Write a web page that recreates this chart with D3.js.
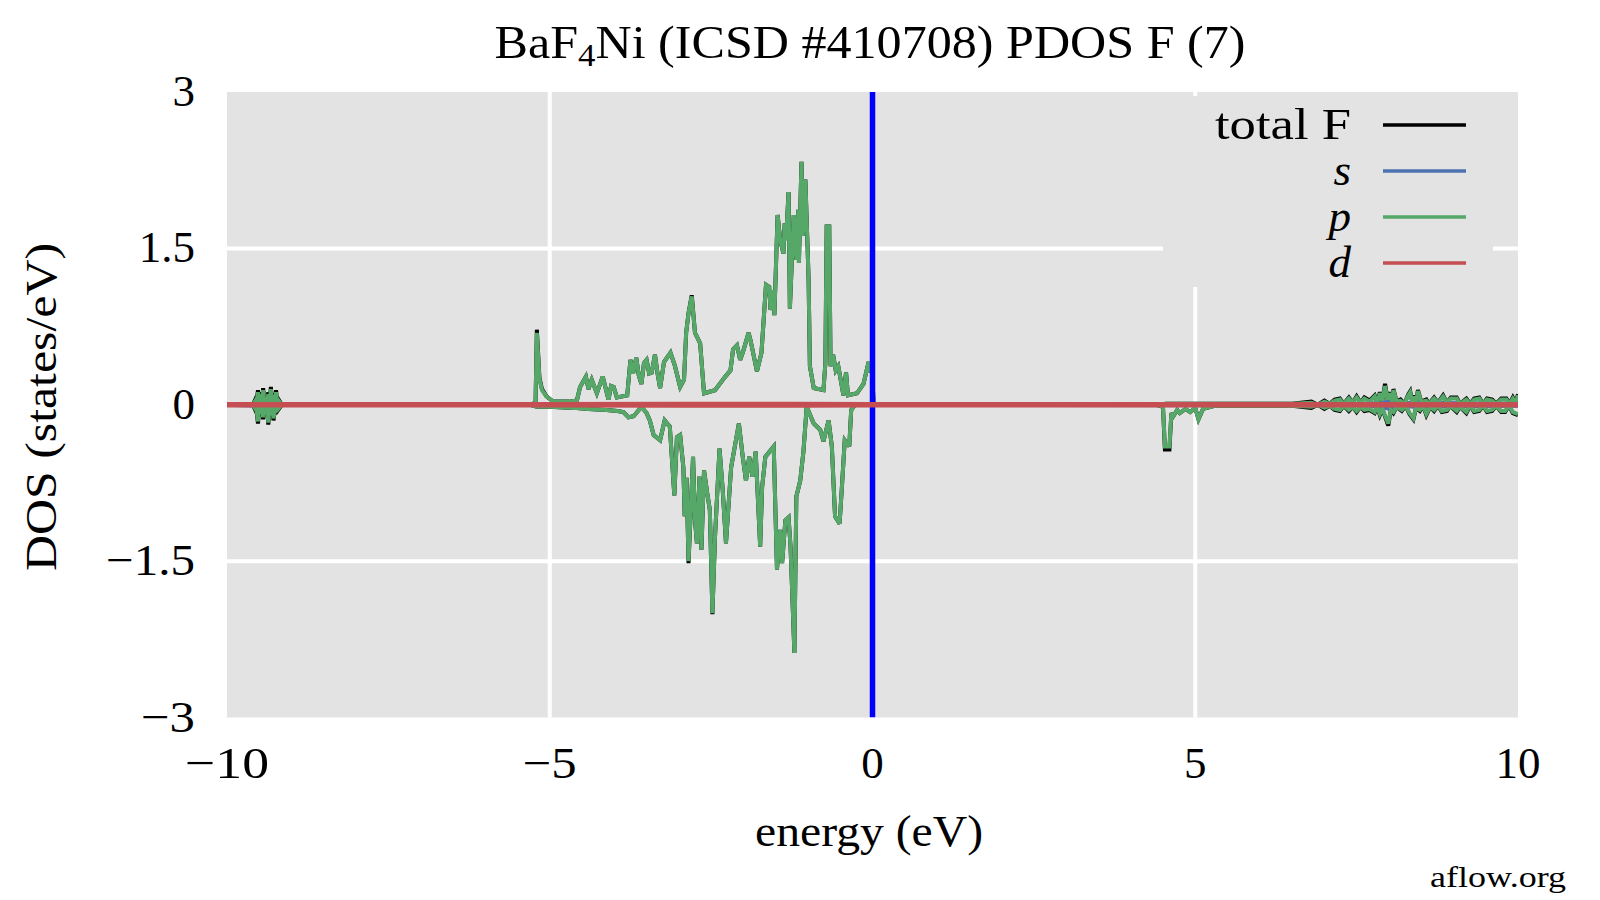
<!DOCTYPE html>
<html>
<head>
<meta charset="utf-8">
<script src="https://cdn.jsdelivr.net/npm/d3@7"></script>
<style>
  html, body { margin: 0; padding: 0; background: #ffffff; }
  svg { display: block; }
  text { font-family: "Liberation Serif", "DejaVu Serif", serif; fill: #000; }
</style>
</head>
<body>
<svg id="chart" width="1600" height="900"></svg>
<script>
// ---------- data ----------
const xTicks = [-10, -5, 0, 5, 10];
const yTicks = [3, 1.5, 0, -1.5, -3];
const yTickLabels = ["3", "1.5", "0", "\u22121.5", "\u22123"];
const xTickLabels = ["\u221210", "\u22125", "0", "5", "10"];

// spin up: energy grid and projected DOS (states/eV)
const energyUp = [-10.0,-9.60,-9.57,-9.55,-9.52,-9.50,-9.48,-9.46,-9.44,-9.42,-9.40,-9.38,-9.36,-9.34,-9.32,-9.30,-9.28,-9.26,-9.24,-9.22,-9.20,-9.15,-9.10,
  -5.30,-5.22,-5.20,-5.16,-5.12,-5.05,-4.95,-4.70,-4.58,-4.53,-4.44,-4.40,-4.35,-4.27,-4.18,-4.09,-4.05,-4.01,-3.96,
  -3.80,-3.75,-3.71,-3.66,-3.62,-3.58,-3.54,-3.50,-3.46,-3.42,-3.37,-3.33,-3.29,-3.23,-3.13,-3.06,-2.98,-2.92,
  -2.887,-2.85,-2.80,-2.75,-2.67,-2.61,-2.44,-2.28,-2.20,-2.16,-2.10,-2.05,-2.01,-1.92,-1.89,-1.79,-1.72,
  -1.65,-1.60,-1.58,-1.54,-1.52,-1.47,-1.43,-1.38,-1.36,-1.34,-1.30,-1.28,-1.22,-1.18,-1.15,-1.14,-1.10,-1.08,-1.04,
  -0.99,-0.97,-0.91,-0.76,-0.73,-0.71,-0.67,-0.65,-0.61,-0.57,-0.53,-0.45,-0.41,-0.38,-0.24,-0.14,-0.06,-0.03,-0.01,0.02,
  4.40,4.55,4.70,5.20,
  6.50,6.80,6.90,7.00,7.08,7.16,7.24,7.30,7.38,7.44,7.50,7.56,7.62,7.70,7.78,7.82,7.86,7.90,7.94,7.98,8.02,8.05,8.07,8.12,
  8.18,8.24,8.30,8.33,8.36,8.38,8.42,8.45,8.50,8.58,8.62,8.70,8.76,8.84,8.90,8.96,9.05,9.10,9.20,9.26,9.32,9.40,9.46,9.52,
  9.60,9.66,9.74,9.82,9.87,9.92,9.96,10.0];
const pUp = [0,0,0.03,0.00,0.12,0.02,0.10,0.01,0.14,0.02,0.06,0.01,0.10,0.02,0.15,0.01,0.09,0.02,0.12,0.01,0.04,0.0,0,
  0,0.02,0.69,0.25,0.14,0.08,0.03,0.03,0.04,0.17,0.27,0.15,0.24,0.11,0.27,0.05,0.18,0.17,0.07,
  0.09,0.43,0.30,0.45,0.28,0.20,0.40,0.43,0.30,0.31,0.48,0.30,0.16,0.41,0.50,0.37,0.17,0.24,
  0.69,0.88,1.04,0.69,0.59,0.11,0.14,0.27,0.33,0.53,0.57,0.43,0.50,0.69,0.62,0.32,0.50,
  1.15,1.13,0.91,1.10,0.86,1.82,1.58,1.45,1.74,1.58,2.04,0.92,1.82,1.39,1.87,1.36,2.33,1.62,2.16,
  1.20,0.37,0.16,0.14,0.40,1.71,1.71,0.37,0.48,0.33,0.37,0.09,0.31,0.09,0.11,0.20,0.41,0.31,0.34,0.0,
  0,0.01,0.01,0.01,
  0.01,0.02,0.00,0.03,0.01,0.04,0.05,0.01,0.06,0.02,0.07,0.02,0.06,0.03,0.08,0.02,0.11,0.04,0.18,0.05,0.11,0.03,0.14,0.03,
  0.04,0.01,0.09,0.12,0.03,0.08,0.02,0.13,0.03,0.04,0.01,0.06,0.02,0.08,0.02,0.06,0.06,0.01,0.05,0.01,0.05,0.06,0.01,0.05,
  0.04,0.01,0.05,0.05,0.01,0.06,0.02,0.09];
const totalUp = [0,0,0.04,0.00,0.14,0.02,0.12,0.01,0.16,0.02,0.08,0.01,0.12,0.02,0.17,0.01,0.11,0.02,0.14,0.01,0.05,0.0,0,
  0,0.02,0.72,0.26,0.15,0.08,0.03,0.03,0.04,0.17,0.27,0.15,0.24,0.11,0.27,0.05,0.18,0.17,0.07,
  0.09,0.43,0.30,0.45,0.28,0.20,0.40,0.43,0.30,0.31,0.48,0.30,0.16,0.41,0.50,0.37,0.17,0.24,
  0.69,0.88,1.05,0.69,0.59,0.11,0.14,0.27,0.33,0.53,0.57,0.43,0.50,0.69,0.62,0.32,0.50,
  1.15,1.13,0.91,1.10,0.86,1.82,1.58,1.45,1.74,1.58,2.04,0.92,1.82,1.39,1.87,1.36,2.33,1.62,2.16,
  1.20,0.37,0.16,0.14,0.40,1.71,1.71,0.37,0.48,0.33,0.37,0.09,0.31,0.09,0.11,0.20,0.41,0.31,0.34,0.0,
  0,0.01,0.01,0.01,
  0.01,0.03,0.00,0.04,0.01,0.05,0.06,0.01,0.07,0.02,0.08,0.02,0.07,0.04,0.09,0.02,0.12,0.04,0.20,0.05,0.12,0.03,0.15,0.03,
  0.05,0.01,0.10,0.13,0.03,0.09,0.02,0.14,0.03,0.05,0.01,0.07,0.02,0.09,0.02,0.07,0.07,0.01,0.06,0.01,0.06,0.07,0.01,0.06,
  0.05,0.01,0.06,0.06,0.01,0.07,0.02,0.10];

// spin down
const energyDown = [-10.0,-9.60,-9.57,-9.55,-9.52,-9.50,-9.48,-9.46,-9.44,-9.42,-9.40,-9.38,-9.36,-9.34,-9.32,-9.30,-9.28,-9.25,-9.22,-9.15,
  -5.30,-5.20,-5.00,-4.63,-4.40,-4.12,-3.95,-3.86,-3.78,-3.70,-3.62,-3.58,-3.50,-3.45,-3.39,-3.29,-3.22,-3.14,
  -3.07,-3.03,-2.98,-2.93,-2.91,-2.88,-2.85,-2.78,-2.75,-2.72,-2.68,-2.65,-2.61,-2.56,-2.52,-2.48,-2.44,
  -2.37,-2.32,-2.27,-2.19,-2.07,-2.01,-1.96,-1.91,-1.86,-1.81,-1.74,-1.71,-1.66,-1.53,-1.48,-1.43,-1.40,
  -1.35,-1.30,-1.27,-1.21,-1.18,-1.12,-1.07,-1.02,-0.91,-0.81,-0.76,-0.68,-0.63,-0.58,-0.51,-0.48,-0.43,
  -0.36,-0.33,-0.27,
  4.40,4.50,4.53,4.60,4.63,4.66,4.72,4.76,4.85,4.92,5.00,5.05,5.12,5.18,5.30,
  6.50,6.80,6.90,7.00,7.08,7.16,7.24,7.30,7.38,7.44,7.50,7.56,7.62,7.70,7.78,7.82,7.86,7.90,7.95,7.99,8.03,8.07,8.12,
  8.20,8.26,8.32,8.38,8.42,8.48,8.53,8.58,8.64,8.70,8.76,8.82,8.90,8.95,9.05,9.10,9.20,9.26,9.32,9.40,9.46,9.52,
  9.60,9.66,9.74,9.80,9.86,9.92,10.0];
const pDown = [0,0,-0.03,-0.01,-0.16,-0.02,-0.08,-0.01,-0.12,-0.02,-0.05,-0.01,-0.17,-0.02,-0.10,-0.01,-0.13,-0.02,-0.05,0,
  0,-0.02,-0.02,-0.03,-0.04,-0.05,-0.06,-0.07,-0.12,-0.11,-0.05,-0.02,-0.08,-0.15,-0.29,-0.34,-0.15,-0.21,
  -0.87,-0.31,-0.29,-0.60,-1.07,-0.70,-1.50,-0.50,-1.11,-1.33,-0.69,-1.39,-0.63,-0.85,-1.01,-2.00,-1.27,
  -0.42,-0.82,-1.33,-0.60,-0.18,-0.50,-0.73,-0.50,-0.69,-0.45,-1.36,-0.79,-0.50,-0.40,-1.58,-1.20,-1.52,
  -1.11,-1.08,-1.36,-2.38,-0.88,-0.73,-0.45,-0.02,-0.18,-0.24,-0.35,-0.15,-0.40,-1.07,-1.14,-0.85,-0.34,
  -0.40,-0.05,0,
  0,-0.02,-0.40,-0.40,-0.08,-0.11,-0.05,-0.08,-0.04,-0.07,-0.03,-0.14,-0.04,-0.03,-0.01,
  -0.01,-0.02,0.00,-0.03,-0.01,-0.04,-0.05,-0.01,-0.05,-0.02,-0.06,-0.02,-0.05,-0.04,-0.07,-0.02,-0.09,-0.04,-0.12,-0.18,-0.05,-0.07,-0.02,
  -0.05,-0.01,-0.08,-0.13,-0.03,-0.05,-0.01,-0.09,-0.02,-0.05,-0.01,-0.06,-0.05,-0.01,-0.06,-0.02,-0.07,-0.01,-0.06,-0.05,-0.01,-0.06,
  -0.05,-0.01,-0.06,-0.06,-0.01,-0.07,-0.09];
const totalDown = [0,0,-0.04,-0.01,-0.18,-0.02,-0.10,-0.01,-0.14,-0.02,-0.07,-0.01,-0.19,-0.02,-0.12,-0.01,-0.15,-0.02,-0.06,0,
  0,-0.02,-0.02,-0.03,-0.04,-0.05,-0.06,-0.07,-0.12,-0.11,-0.05,-0.02,-0.08,-0.15,-0.29,-0.34,-0.15,-0.21,
  -0.87,-0.31,-0.29,-0.60,-1.07,-0.70,-1.52,-0.50,-1.11,-1.33,-0.69,-1.39,-0.63,-0.85,-1.01,-2.01,-1.27,
  -0.42,-0.82,-1.33,-0.60,-0.18,-0.50,-0.73,-0.50,-0.69,-0.45,-1.36,-0.79,-0.50,-0.40,-1.58,-1.20,-1.52,
  -1.11,-1.08,-1.36,-2.38,-0.88,-0.73,-0.45,-0.02,-0.18,-0.24,-0.35,-0.15,-0.40,-1.07,-1.14,-0.85,-0.34,
  -0.40,-0.05,0,
  0,-0.02,-0.43,-0.43,-0.08,-0.11,-0.05,-0.08,-0.04,-0.07,-0.03,-0.14,-0.04,-0.03,-0.01,
  -0.01,-0.03,0.00,-0.04,-0.01,-0.05,-0.06,-0.01,-0.06,-0.02,-0.07,-0.02,-0.06,-0.05,-0.08,-0.02,-0.10,-0.04,-0.13,-0.20,-0.05,-0.08,-0.02,
  -0.06,-0.01,-0.09,-0.14,-0.03,-0.06,-0.01,-0.10,-0.02,-0.06,-0.01,-0.07,-0.06,-0.01,-0.07,-0.02,-0.08,-0.01,-0.07,-0.06,-0.01,-0.07,
  -0.06,-0.01,-0.07,-0.07,-0.01,-0.08,-0.10];

// s and d orbitals (tiny contributions)
const energyS = [-10.0,-9.55,-9.45,-9.35,-9.25,-9.15,7.50,7.90,8.00,8.10,8.40,10.0];
const sUp =   [0,0.01,0.04,0.02,0.03,0,0.005,0.02,0.03,0.01,0.02,0.01];
const sDown = [0,-0.01,-0.04,-0.02,-0.03,0,-0.005,-0.02,-0.04,-0.01,-0.02,-0.01];
const energyD = [-10.0,-5.2,-3.0,-1.2,0.0,4.5,8.0,10.0];
const dUp =   [0.01,0.01,0.012,0.012,0.01,0.01,0.01,0.01];
const dDown = [-0.01,-0.01,-0.012,-0.012,-0.01,-0.01,-0.01,-0.01];

const legendLabels = ["total F", "s", "p", "d"];
const legendColors = ["#000000", "#4c72b0", "#55a868", "#c44e52"];

// ---------- layout ----------
const svg = d3.select("#chart");
const L = 227, R = 1518, T = 92, B = 717.5;
const x = d3.scaleLinear().domain([-10, 10]).range([L, R]);
const y = d3.scaleLinear().domain([-3, 3]).range([B, T]);

svg.append("rect").attr("x", L).attr("y", T).attr("width", R - L).attr("height", B - T).attr("fill", "#e3e3e3");

const clip = svg.append("clipPath").attr("id", "clip");
clip.append("rect").attr("x", L).attr("y", T).attr("width", R - L).attr("height", B - T);

// grid
const grid = svg.append("g");
grid.selectAll("line.gx").data(xTicks.filter(v => v > -10 && v < 10)).enter().append("line")
  .attr("x1", d => x(d)).attr("x2", d => x(d)).attr("y1", T).attr("y2", B)
  .attr("stroke", "#ffffff").attr("stroke-width", 4);
grid.selectAll("line.gy").data(yTicks.filter(v => v > -3 && v < 3)).enter().append("line")
  .attr("y1", d => y(d)).attr("y2", d => y(d)).attr("x1", L).attr("x2", R)
  .attr("stroke", "#ffffff").attr("stroke-width", 4);

// tick labels (widths stretched to mimic Computer Modern proportions)
const xTickWidths = [84, 54, null, null, null];
svg.append("g").selectAll("text").data(xTicks).enter().append("text")
  .attr("x", d => x(d)).attr("y", 778).attr("text-anchor", "middle")
  .attr("font-size", 45)
  .each(function(d, i) { if (xTickWidths[i]) d3.select(this).attr("textLength", xTickWidths[i]).attr("lengthAdjust", "spacingAndGlyphs"); })
  .text((d, i) => xTickLabels[i]);
const yTickWidths = [null, null, null, 89, 54];
svg.append("g").selectAll("text").data(yTicks).enter().append("text")
  .attr("x", 195).attr("y", d => y(d) + 14).attr("text-anchor", "end")
  .attr("font-size", 45)
  .each(function(d, i) { if (yTickWidths[i]) d3.select(this).attr("textLength", yTickWidths[i]).attr("lengthAdjust", "spacingAndGlyphs"); })
  .text((d, i) => yTickLabels[i]);

// lines
const plot = svg.append("g").attr("clip-path", "url(#clip)");
function drawLine(xs, ys, color, w) {
  const pts = xs.map((e, i) => [e, ys[i]]);
  plot.append("path").datum(pts)
    .attr("d", d3.line().x(d => x(d[0])).y(d => y(d[1])))
    .attr("fill", "none").attr("stroke", color).attr("stroke-width", w)
    .attr("stroke-linejoin", "miter").attr("stroke-miterlimit", 3);
}
drawLine(energyUp, totalUp, legendColors[0], 4);
drawLine(energyDown, totalDown, legendColors[0], 4);
drawLine(energyS, sUp, legendColors[1], 4);
drawLine(energyS, sDown, legendColors[1], 4);
drawLine(energyUp, pUp, legendColors[2], 4);
drawLine(energyDown, pDown, legendColors[2], 4);
// Fermi level
plot.append("line").attr("x1", x(0)).attr("x2", x(0)).attr("y1", T).attr("y2", B)
  .attr("stroke", "#0000ff").attr("stroke-width", 5.5);
drawLine(energyD, dUp, legendColors[3], 3.5);
drawLine(energyD, dDown, legendColors[3], 3.5);

// legend
const lg = svg.append("g");
lg.append("rect").attr("x", 1163).attr("y", 96).attr("width", 330).attr("height", 191).attr("fill", "#e3e3e3");
const rowsY = [125, 171, 217, 263];
legendLabels.forEach((lab, i) => {
  lg.append("line").attr("x1", 1383).attr("x2", 1466).attr("y1", rowsY[i]).attr("y2", rowsY[i])
    .attr("stroke", legendColors[i]).attr("stroke-width", 3.5);
  const t = lg.append("text").attr("x", 1351).attr("y", rowsY[i] + 14).attr("text-anchor", "end")
    .attr("font-size", 45).attr("font-style", i === 0 ? "normal" : "italic").text(lab);
  if (i === 0) t.attr("textLength", 136).attr("lengthAdjust", "spacingAndGlyphs");
});

// title
const title = svg.append("text").attr("x", 870).attr("y", 58).attr("text-anchor", "middle").attr("font-size", 46)
  .attr("textLength", 751).attr("lengthAdjust", "spacingAndGlyphs");
title.append("tspan").text("BaF");
title.append("tspan").attr("font-size", 32).attr("dy", 8).text("4");
title.append("tspan").attr("dy", -8).text("Ni (ICSD #410708) PDOS F (7)");

// axis labels
svg.append("text").attr("x", 869).attr("y", 846).attr("text-anchor", "middle").attr("font-size", 45)
  .attr("textLength", 228).attr("lengthAdjust", "spacingAndGlyphs").text("energy (eV)");
svg.append("text").attr("transform", "translate(56,407) rotate(-90)").attr("text-anchor", "middle")
  .attr("font-size", 45).attr("textLength", 328).attr("lengthAdjust", "spacingAndGlyphs").text("DOS (states/eV)");

svg.append("text").attr("x", 1566).attr("y", 887).attr("text-anchor", "end").attr("font-size", 29)
  .attr("textLength", 136).attr("lengthAdjust", "spacingAndGlyphs").text("aflow.org");
</script>
</body>
</html>
